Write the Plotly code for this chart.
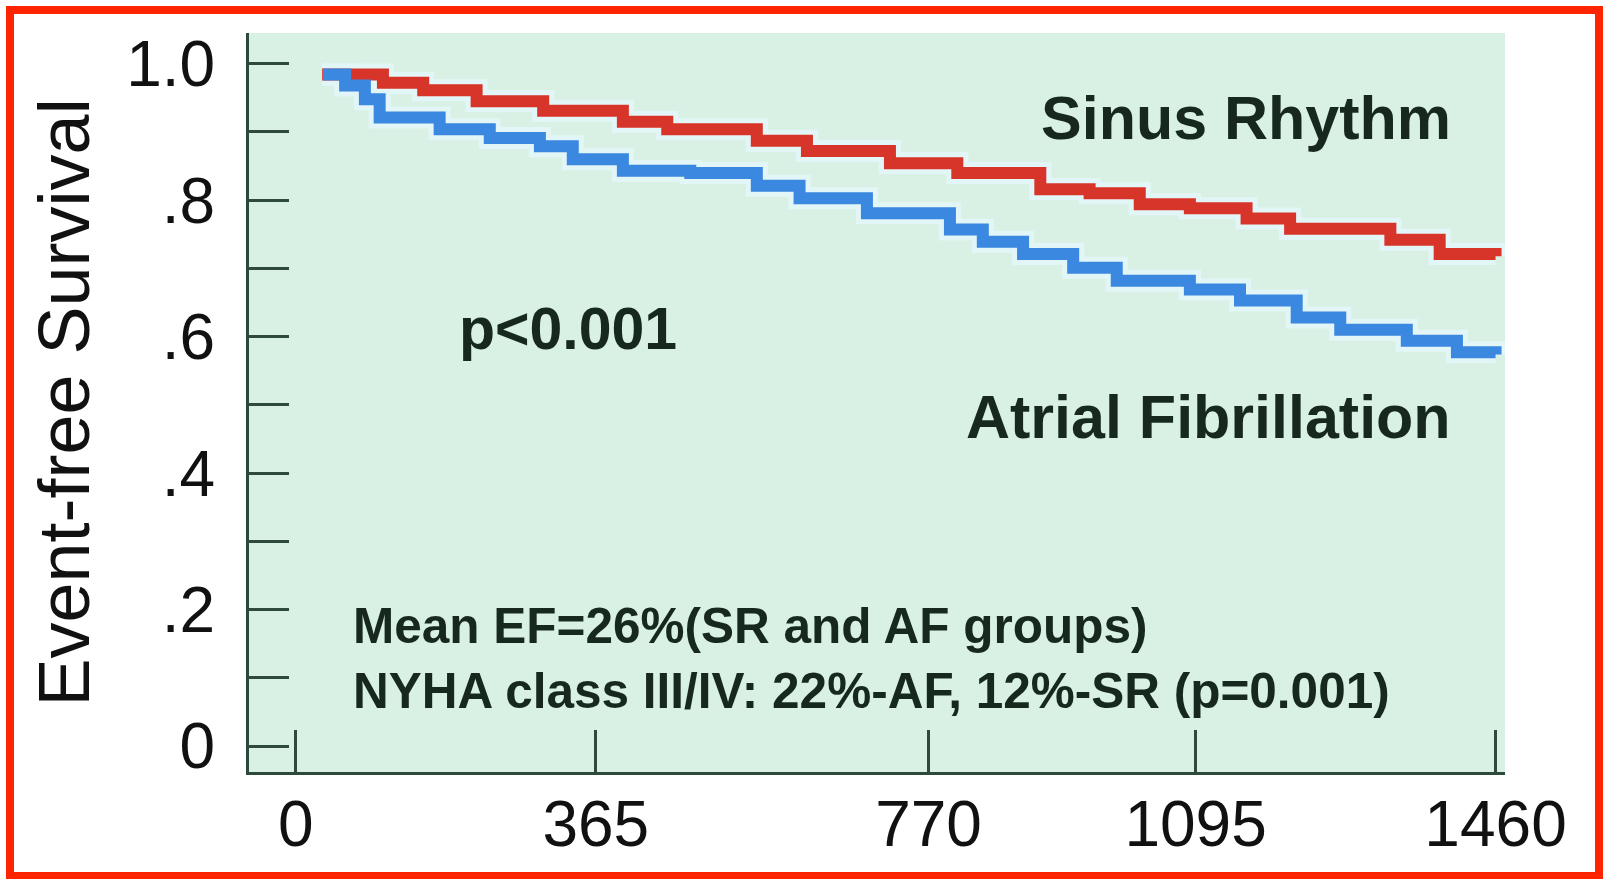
import plotly.graph_objects as go

# ---- data ----
days_sr = [32, 106, 155, 220, 301, 398, 452, 561, 622, 723, 805, 906, 966, 1027, 1088, 1157, 1210, 1332, 1392, 1460]
surv_sr = [0.984, 0.972, 0.961, 0.945, 0.931, 0.915, 0.904, 0.887, 0.872, 0.854, 0.840, 0.816, 0.810, 0.794,
           0.788, 0.773, 0.758, 0.742, 0.721, 0.718]

days_af = [33, 60, 84, 102, 175, 236, 297, 337, 398, 480, 561, 613, 695, 796, 836, 885, 946, 999, 1088, 1149,
           1218, 1271, 1352, 1413, 1460]
surv_af = [0.984, 0.968, 0.948, 0.921, 0.904, 0.891, 0.879, 0.860, 0.843, 0.840, 0.821, 0.803, 0.781, 0.757,
           0.739, 0.721, 0.701, 0.682, 0.669, 0.653, 0.628, 0.610, 0.594, 0.577, 0.574]

x_tickvals = [0, 365, 770, 1095, 1460]
x_ticktext = ["0", "365", "770", "1095", "1460"]
y_tickvals = [0.0, 0.1, 0.2, 0.3, 0.4, 0.5, 0.6, 0.7, 0.8, 0.9, 1.0]
y_ticktext = ["0", "", ".2", "", ".4", "", ".6", "", ".8", "", "1.0"]

# ---- styling ----
W, H = 1604, 879
ML, MR, MT, MB = 249, 99, 33, 107
FONT = "Liberation Sans, Arial, Helvetica, sans-serif"
AXC = "#2d4a3a"
TXT = "#17291f"
RED = "#d8352a"
BLUE = "#3a88df"
HALO = "#e3f6f7"
BG = "#d9f1e5"

fig = go.Figure()
for d, s in ((days_sr, surv_sr), (days_af, surv_af)):
    fig.add_trace(go.Scatter(x=d, y=s, mode="lines", line=dict(color=HALO, width=22, shape="hv"),
                             hoverinfo="skip", showlegend=False))
fig.add_trace(go.Scatter(x=days_sr, y=surv_sr, mode="lines", name="Sinus Rhythm",
                         line=dict(color=RED, width=12, shape="hv"), showlegend=False))
fig.add_trace(go.Scatter(x=days_af, y=surv_af, mode="lines", name="Atrial Fibrillation",
                         line=dict(color=BLUE, width=12, shape="hv"), showlegend=False))

axis_common = dict(showgrid=False, zeroline=False, showline=True, linewidth=3, linecolor=AXC,
                   ticks="inside", tickwidth=3, tickcolor=AXC,
                   tickfont=dict(family=FONT, size=64, color="#111111"))
fig.update_xaxes(range=[-57, 1471.5], tickmode="array", tickvals=x_tickvals, ticktext=x_ticktext,
                 ticklen=42, ticklabelstandoff=-6, **axis_common)
fig.update_yaxes(range=[-0.038, 1.045], tickmode="array", tickvals=y_tickvals, ticktext=y_ticktext,
                 ticklen=40, ticklabelstandoff=18,
                 title=dict(text="Event-free Survival", font=dict(family=FONT, size=72, color="#111111"),
                            standoff=14),
                 **axis_common)

def ann(text, x, y, size, bold=False, xanchor="left"):
    t = f"<b>{text}</b>" if bold else text
    fig.add_annotation(x=x, y=y, xref="x", yref="y", text=t, showarrow=False, xanchor=xanchor,
                       yanchor="middle", font=dict(family=FONT, size=size, color=TXT))

ann("Sinus Rhythm", 1408, 0.920, 61, bold=True, xanchor="right")
ann("Atrial Fibrillation", 1408, 0.482, 61, bold=True, xanchor="right")
ann("p&lt;0.001", 196, 0.611, 59, bold=True)
ann("Mean EF=26%(SR and AF groups)", 67, 0.176, 49.5, bold=True)
ann("NYHA class III/IV: 22%-AF, 12%-SR (p=0.001)", 67, 0.081, 49.5, bold=True)

# red frame around the whole picture (paper coords derived from pixel frame)
pw, ph = W - ML - MR, H - MT - MB
def px(xp): return (xp - ML) / pw
def py(yp): return (H - MB - yp) / ph
fig.add_shape(type="rect", xref="paper", yref="paper", x0=px(10), x1=px(1599), y0=py(876), y1=py(10),
              line=dict(color="#ff2400", width=8), fillcolor="rgba(0,0,0,0)", layer="above")

fig.update_layout(width=W, height=H, margin=dict(l=ML, r=MR, t=MT, b=MB, autoexpand=False),
                  paper_bgcolor="white", plot_bgcolor=BG, showlegend=False)

fig.write_html("out.html")
